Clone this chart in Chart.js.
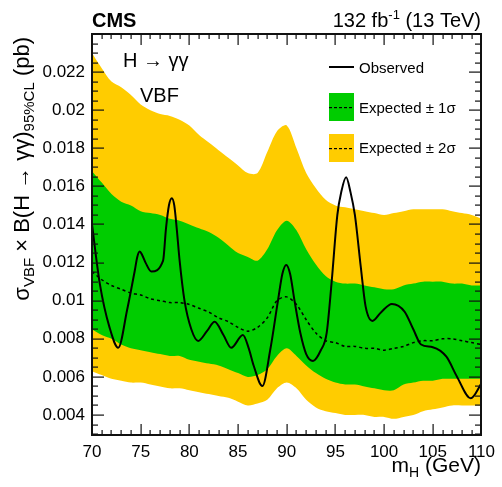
<!DOCTYPE html>
<html>
<head>
<meta charset="utf-8">
<script src="https://cdn.jsdelivr.net/npm/chart.js@4.4.1/dist/chart.umd.min.js"></script>
<style>
  html, body { margin: 0; padding: 0; background: #fff; }
</style>
</head>
<body>
<canvas id="limitChart" width="502" height="487"></canvas>
<script>
// Higgs mass grid for the expected bands (GeV)
const mass = [70, 71, 72, 73, 74, 75, 76, 77, 78, 79, 80, 81, 82, 83, 84, 85, 86, 87, 88, 89,
  90, 91, 92, 93, 94, 95, 96, 97, 98, 99, 100, 101, 102, 103, 104, 105, 106, 107, 108, 109, 110];

// Expected limit (pb) and the 1 / 2 sigma bands
const expected = [0.01153, 0.0111, 0.0108, 0.0106, 0.0104, 0.0103, 0.0101, 0.0100, 0.0099, 0.0099,
  0.0098, 0.0096, 0.0094, 0.0091, 0.0089, 0.0086, 0.0084, 0.0086, 0.0091, 0.0100,
  0.0102, 0.0098, 0.0090, 0.0083, 0.0079, 0.0078, 0.0076, 0.0076, 0.0075, 0.0075,
  0.0074, 0.0075, 0.0076, 0.0078, 0.0079, 0.0079, 0.0080, 0.0080, 0.0079, 0.0078, 0.0077];
const up1 = [0.0168, 0.0162, 0.0156, 0.0152, 0.0150, 0.0147, 0.0146, 0.0145, 0.0143, 0.0142,
  0.0140, 0.0138, 0.0136, 0.0133, 0.0129, 0.0125, 0.0123, 0.0121, 0.0127, 0.0137,
  0.0142, 0.0137, 0.0127, 0.0119, 0.0113, 0.0110, 0.0109, 0.0109, 0.0108, 0.0107,
  0.0106, 0.0106, 0.0108, 0.0109, 0.0110, 0.0110, 0.0110, 0.0109, 0.0109, 0.0108, 0.0108];
const dn1 = [0.0085, 0.0082, 0.0080, 0.0077, 0.0075, 0.0074, 0.0073, 0.0072, 0.0071, 0.0071,
  0.0069, 0.0068, 0.0067, 0.0066, 0.0064, 0.0062, 0.0060, 0.0061, 0.0064, 0.0071,
  0.0075, 0.0071, 0.0066, 0.0062, 0.0059, 0.0057, 0.0056, 0.0056, 0.0055, 0.0054,
  0.0053, 0.0053, 0.0056, 0.0057, 0.0058, 0.0058, 0.0059, 0.0059, 0.0059, 0.0059, 0.0059];
const up2 = [0.0230, 0.0222, 0.0215, 0.0212, 0.0208, 0.0203, 0.0200, 0.0198, 0.0197, 0.0195,
  0.0192, 0.0187, 0.0183, 0.0179, 0.0175, 0.0171, 0.0167, 0.0167, 0.0178, 0.0189,
  0.0192, 0.0180, 0.0167, 0.0159, 0.0153, 0.0150, 0.0149, 0.0148, 0.0147, 0.0146,
  0.0145, 0.0146, 0.0147, 0.0148, 0.0148, 0.0148, 0.0148, 0.0147, 0.0146, 0.0145, 0.0143];
const dn2 = [0.0063, 0.0061, 0.0059, 0.0058, 0.0057, 0.0057, 0.0056, 0.0055, 0.0054, 0.0054,
  0.0053, 0.0052, 0.0051, 0.0050, 0.0049, 0.0047, 0.0045, 0.0046, 0.0048, 0.0054,
  0.0057, 0.0054, 0.0048, 0.0044, 0.0042, 0.0041, 0.0040, 0.0040, 0.0040, 0.0039,
  0.0039, 0.0038, 0.0039, 0.0040, 0.0042, 0.0043, 0.0044, 0.0045, 0.0045, 0.0045, 0.0045];

// Observed limit, read at its own mass points
const obsMass = [70, 70.8, 71.8, 72.7, 73.6, 74.4, 74.65, 74.9, 75.15, 75.5, 76.1, 77.3, 77.6, 77.9,
  78.2, 78.45, 78.7, 79.0, 79.5, 80.2, 80.9, 81.8, 82.6, 83.5, 84.3, 85.5, 86.1, 86.6, 87.5,
  88.3, 89.1, 89.55, 89.95, 90.35, 90.8, 91.4, 92.0, 92.7, 93.5, 94.1, 94.6, 95.2, 95.6, 96.1,
  96.55, 97.0, 97.6, 98.1, 98.8, 99.7, 100.8, 102.1, 103.0, 103.8, 105.0, 106.4, 107.5, 108.9, 110];
const observed = [0.0140, 0.0109, 0.0086, 0.00753, 0.0095, 0.0116, 0.0123, 0.01258, 0.0124, 0.0120,
  0.01153, 0.0121, 0.0138, 0.0150, 0.01538, 0.0150, 0.0138, 0.0121, 0.0100, 0.0085,
  0.00789, 0.0084, 0.0089, 0.0082, 0.00753, 0.0082, 0.0075, 0.0066, 0.00552,
  0.0074, 0.0100, 0.0114, 0.01188, 0.0114, 0.0100, 0.0083, 0.0072, 0.00684, 0.0074, 0.0083,
  0.0109, 0.0145, 0.0157, 0.01648, 0.0157, 0.0145, 0.0118, 0.0097, 0.00894, 0.0094, 0.00983,
  0.00943, 0.0085, 0.0077, 0.00756, 0.00706, 0.0060, 0.00488, 0.00566];

// Axis ticks
const xTicks = [70, 75, 80, 85, 90, 95, 100, 105, 110];
const xTickLabels = ['70', '75', '80', '85', '90', '95', '100', '105', '110'];
const yTicks = [0.004, 0.006, 0.008, 0.010, 0.012, 0.014, 0.016, 0.018, 0.020, 0.022];
const yTickLabels = ['0.004', '0.006', '0.008', '0.01', '0.012', '0.014', '0.016', '0.018', '0.02', '0.022'];

const FONT = "'Liberation Sans', Arial, Helvetica, sans-serif";
const GREEN = '#00cc00';
const YELLOW = '#ffcc00';
const yMin = 0.00295, yMax = 0.024;

Chart.defaults.font.family = FONT;
Chart.defaults.color = '#000';

const toXY = (xs, ys) => xs.map((x, i) => ({ x: x, y: ys[i] }));

const fontOf = p => (p.bold ? 'bold ' : '') + p.size + 'px ' + FONT;

// draws a run of text pieces (sub/superscripts) starting at x0
function richText(ctx, parts, x0, y0) {
  ctx.textAlign = 'left';
  let w = 0;
  parts.forEach(p => {
    ctx.font = fontOf(p);
    ctx.fillText(p.t, x0 + w, y0 + (p.dy || 0));
    w += ctx.measureText(p.t).width;
  });
}

// same, but the last piece ends at x1
function richTextRight(ctx, parts, x1, y0) {
  ctx.textAlign = 'right';
  let w = 0;
  parts.slice().reverse().forEach(p => {
    ctx.font = fontOf(p);
    ctx.fillText(p.t, x1 - w, y0 + (p.dy || 0));
    w += ctx.measureText(p.t).width;
  });
  ctx.textAlign = 'left';
}

const frameAndText = {
  id: 'frameAndText',
  afterDraw(chart) {
    const ctx = chart.ctx;
    const a = chart.chartArea;
    const xs = chart.scales.x, ys = chart.scales.y;
    const L = Math.round(a.left), R = Math.round(a.right), T = Math.round(a.top), B = Math.round(a.bottom);
    ctx.save();
    ctx.fillStyle = '#111';

    // frame as thin filled rectangles
    ctx.fillRect(L - 1, T - 1, R - L + 2, 2);
    ctx.fillRect(L - 1, B - 1, R - L + 2, 2);
    ctx.fillRect(L - 1, T - 1, 2, B - T + 2);
    ctx.fillRect(R - 1, T - 1, 2, B - T + 2);

    // ticks point inside, on all four sides
    for (let m = 70; m <= 110; m++) {
      const px = Math.round(xs.getPixelForValue(m));
      const len = m % 5 === 0 ? 11 : 5;
      ctx.fillRect(px - 0.5, B - len, 1.2, len);
      ctx.fillRect(px - 0.5, T, 1.2, len);
    }
    for (let k = 6; k <= 48; k++) {
      const v = k * 0.0005;
      if (v < yMin || v > yMax) continue;
      const py = Math.round(ys.getPixelForValue(v));
      const len = k % 4 === 0 ? 12 : 6;
      ctx.fillRect(L, py - 0.5, len, 1.2);
      ctx.fillRect(R - len, py - 0.5, len, 1.2);
    }

    ctx.fillStyle = '#000';
    ctx.textBaseline = 'alphabetic';

    // header
    richText(ctx, [{ t: 'CMS', size: 20, bold: true }], L, 27);
    richTextRight(ctx, [{ t: '132 fb', size: 20 }, { t: '-1', size: 13, dy: -8 }, { t: ' (13 TeV)', size: 20 }], R, 27);

    // process labels
    richText(ctx, [{ t: 'H \u2192 \u03b3\u03b3', size: 20 }], 123, 67);
    richText(ctx, [{ t: 'VBF', size: 20 }], 140, 102);

    // legend
    ctx.fillRect(329, 66, 25, 2);
    ctx.fillStyle = GREEN; ctx.fillRect(329, 93, 25, 28);
    ctx.fillStyle = YELLOW; ctx.fillRect(329, 134, 25, 28);
    ctx.fillStyle = '#000';
    for (let d = 329; d < 354; d += 5) {
      ctx.fillRect(d, 107, 3, 1.2);
      ctx.fillRect(d, 148, 3, 1.2);
    }
    richText(ctx, [{ t: 'Observed', size: 15 }], 359, 73);
    richText(ctx, [{ t: 'Expected \u00b1 1\u03c3', size: 15 }], 359, 113);
    richText(ctx, [{ t: 'Expected \u00b1 2\u03c3', size: 15 }], 359, 153);

    // x title
    richTextRight(ctx, [{ t: 'm', size: 21 }, { t: 'H', size: 14, dy: 5 }, { t: ' (GeV)', size: 21 }], R, 472);

    // y title, rotated, right aligned at the top
    ctx.translate(29, 37);
    ctx.rotate(-Math.PI / 2);
    richTextRight(ctx, [{ t: '\u03c3', size: 22 }, { t: 'VBF', size: 15, dy: 5 }, { t: ' \u00d7 B(H \u2192 \u03b3\u03b3)', size: 22 },
      { t: '95%CL', size: 15, dy: 5 }, { t: ' (pb)', size: 22 }], 0, 0);
    ctx.restore();
  }
};

const bandStyle = { pointRadius: 0, borderWidth: 0, borderColor: 'rgba(0,0,0,0)', tension: 0.3 };

new Chart(document.getElementById('limitChart').getContext('2d'), {
  type: 'line',
  data: {
    datasets: [{
      label: 'Observed',
      data: toXY(obsMass, observed),
      borderColor: '#000',
      borderWidth: 2,
      pointRadius: 0,
      cubicInterpolationMode: 'monotone',
      fill: false,
      order: 0
    }, {
      label: 'Expected',
      data: toXY(mass, expected),
      borderColor: '#000',
      borderWidth: 1.5,
      borderDash: [3, 3],
      pointRadius: 0,
      tension: 0.3,
      fill: false,
      order: 1
    }, Object.assign({
      label: 'Expected +1 sigma', data: toXY(mass, up1), backgroundColor: GREEN, fill: '+1', order: 2
    }, bandStyle), Object.assign({
      label: 'Expected -1 sigma', data: toXY(mass, dn1), fill: false, order: 3
    }, bandStyle), Object.assign({
      label: 'Expected +2 sigma', data: toXY(mass, up2), backgroundColor: YELLOW, fill: '+1', order: 4
    }, bandStyle), Object.assign({
      label: 'Expected -2 sigma', data: toXY(mass, dn2), fill: false, order: 5
    }, bandStyle)]
  },
  options: {
    responsive: false,
    animation: false,
    devicePixelRatio: 1,
    layout: { padding: { top: 34, right: 20, left: 0, bottom: 0 } },
    plugins: {
      legend: { display: false },
      tooltip: { enabled: false },
      filler: { propagate: false }
    },
    scales: {
      x: {
        type: 'linear',
        min: 70,
        max: 110,
        grid: { display: false, drawTicks: false },
        border: { display: false },
        afterBuildTicks: s => { s.ticks = xTicks.map(v => ({ value: v })); },
        afterFit: s => { s.height = 52; },
        ticks: {
          autoSkip: false,
          maxRotation: 0,
          padding: 7,
          font: { size: 17 },
          callback: (v, i) => xTickLabels[i]
        }
      },
      y: {
        type: 'linear',
        min: yMin,
        max: yMax,
        grid: { display: false, drawTicks: false },
        border: { display: false },
        afterBuildTicks: s => { s.ticks = yTicks.map(v => ({ value: v })); },
        afterFit: s => { s.width = 92; },
        ticks: {
          autoSkip: false,
          padding: 7,
          font: { size: 17 },
          callback: (v, i) => yTickLabels[i]
        }
      }
    }
  },
  plugins: [frameAndText]
});
</script>
</body>
</html>
